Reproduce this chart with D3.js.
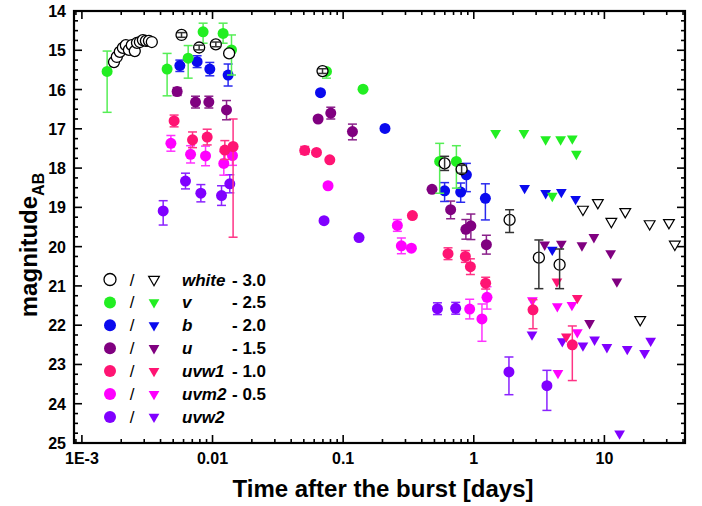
<!DOCTYPE html>
<html><head><meta charset="utf-8">
<script src="https://cdn.jsdelivr.net/npm/d3@7"></script>
<style>body{margin:0;background:#fff}text{font-family:"Liberation Sans",Arial,sans-serif}</style>
</head><body><svg id="c" width="702" height="506"></svg>
<script>
// detections: [time (days), magnitude, err low, err high]
const whiteDet = [[0.00176,15.30,0,0],[0.00185,15.17,0,0],[0.00195,15.04,0,0],[0.00206,14.94,0,0],[0.00217,14.87,0,0],[0.00229,14.99,0,0],[0.00241,14.87,0,0],[0.00254,15.02,0,0],[0.00264,14.81,0,0],[0.00278,14.79,0,0],[0.00293,14.74,0,0],[0.00309,14.76,0,0],[0.00326,14.76,0,0],[0.00343,14.79,0,0],[0.00579,14.61,0.06,0.06],[0.0079,14.93,0.06,0.06],[0.0106,14.85,0.06,0.06],[0.0134,15.08,0,0],[0.0695,15.53,0.06,0.06],[0.598,17.88,0.18,0.18],[0.807,18.03,0.1,0.1],[1.88,19.32,0.26,0.32],[3.15,20.28,0.45,0.79],[4.54,20.46,0.4,0.61]];
const whiteLim = [[6.85,19.05],[8.91,18.88],[11.3,19.36],[14.45,19.11],[18.8,21.86],[22.2,19.42],[31.2,19.39],[34.6,19.94]];
const vDet = [[0.00156,15.54,0.52,1.04],[0.00449,15.48,0.40,0.68],[0.00651,15.20,0.32,0.51],[0.00847,14.53,0.22,0.29],[0.01205,14.57,0.26,0.25],[0.01397,14.99,0.38,0.64],[0.0745,15.54,0.05,0.17],[0.142,15.99,0,0],[0.548,17.83,0.46,0.81],[0.736,17.83,0.40,0.68]];
const vLim = [[1.47,17.11],[2.42,17.11],[3.55,17.27],[3.99,18.71],[4.62,17.27],[5.68,17.25],[6.10,17.64]];
const bDet = [[0.00562,15.39,0.14,0.15],[0.00762,15.29,0.15,0.15],[0.00953,15.48,0.17,0.17],[0.01316,15.63,0.28,0.28],[0.0671,16.08,0,0],[0.209,16.99,0,0],[0.598,18.58,0.21,0.27],[0.794,18.61,0.23,0.26],[0.878,18.17,0.29,0.43],[1.227,18.77,0.37,0.55]];
const bLim = [[2.45,18.51],[3.55,18.64],[3.99,20.08],[4.68,18.61],[6.02,18.79]];
const uDet = [[0.00536,16.05,0.1,0.1],[0.00741,16.32,0.15,0.15],[0.00937,16.32,0.15,0.15],[0.0128,16.52,0.24,0.25],[0.0643,16.75,0,0],[0.0804,16.60,0.15,0.15],[0.1178,17.07,0.19,0.21],[0.479,18.54,0,0],[0.665,19.06,0.22,0.23],[0.87,19.56,0.25,0.25],[0.95,19.47,0.3,0.35],[1.249,19.95,0.24,0.24]];
const uLim = [[3.49,19.95],[4.68,19.93],[6.73,19.97],[7.70,21.95],[8.31,19.76],[11.16,20.17],[12.46,20.89]];
const uvw1Det = [[0.00508,16.80,0.15,0.15],[0.00703,17.28,0.2,0.2],[0.0091,17.21,0.2,0.2],[0.01242,17.54,0.24,0.24],[0.01437,17.45,0.70,2.31],[0.0508,17.55,0.1,0.1],[0.0625,17.60,0,0],[0.079,17.79,0,0],[0.339,19.21,0,0],[0.635,20.18,0.15,0.15],[0.862,20.25,0.15,0.15],[0.942,20.51,0.2,0.2],[1.233,20.93,0.15,0.15],[2.84,21.61,0.26,0.48],[5.68,22.50,0.48,0.91]];
const uvw1Lim = [[4.33,20.89],[5.11,22.29],[6.20,21.31]];
const uvm2Det = [[0.0048,17.37,0.2,0.2],[0.00679,17.65,0.22,0.22],[0.00884,17.69,0.25,0.25],[0.0122,17.88,0.3,0.3],[0.01422,17.68,0.25,0.25],[0.0766,18.45,0,0],[0.26,19.46,0.15,0.15],[0.279,19.98,0.2,0.2],[0.333,20.04,0,0],[0.93,21.59,0.25,0.25],[1.155,21.84,0.38,0.57],[1.262,21.29,0.27,0.3]];
const uvm2Lim = [[2.81,21.37],[4.36,21.52],[4.41,23.22],[5.64,21.49],[6.20,22.18]];
const uvw2Det = [[0.00419,19.09,0.26,0.36],[0.00621,18.33,0.2,0.2],[0.00814,18.64,0.22,0.22],[0.01172,18.70,0.25,0.25],[0.01356,18.40,0.23,0.23],[0.0714,19.34,0,0],[0.1323,19.77,0,0],[0.527,21.58,0.15,0.15],[0.727,21.57,0.15,0.15],[1.859,23.19,0.38,0.58],[3.63,23.54,0.39,0.63]];
const uvw2Lim = [[2.79,22.24],[4.76,22.41],[6.85,22.52],[8.41,22.37],[10.45,22.56],[13.07,24.76],[14.96,22.61],[20.3,22.71],[22.6,22.40]];

const seriesNames = ["white","v","b","u","uvw1","uvm2","uvw2"];
const seriesOffsets = ["- 3.0","- 2.5","- 2.0","- 1.5","- 1.0","- 0.5",""];
const seriesColors = ["#ffffff","#22ee22","#0a0aee","#800080","#ff1473","#ff00ff","#8000ff"];
const errColors = ["#333333","#55ee55","#2a2aee","#8a208a","#ff3385","#ff33ff","#8a22ff"];
const detData = [whiteDet,vDet,bDet,uDet,uvw1Det,uvm2Det,uvw2Det];
const limData = [whiteLim,vLim,bLim,uLim,uvw1Lim,uvm2Lim,uvw2Lim];
const xTicks = [0.001,0.01,0.1,1,10];
const xTickLabels = ["1E-3","0.01","0.1","1","10"];
const yTicks = [14,15,16,17,18,19,20,21,22,23,24,25];

const svg = d3.select("#c");
const L = 74, R = 685, T = 11, B = 443;
const x = d3.scaleLog().domain([0.00087, 41.4]).range([L, R]);
const y = d3.scaleLinear().domain([14, 25]).range([T, B]);

// minor ticks
const xMinor = [];
for (let e = -4; e <= 1; e++) for (let k = 2; k <= 9; k++) { const v = k * Math.pow(10, e); if (v > 0.00087 && v < 41.4) xMinor.push(v); }
const yMinor = d3.range(14, 25.001, 0.25).filter(v => Math.abs(v - Math.round(v)) > 0.01);

const ax = svg.append("g").attr("stroke", "#000").attr("stroke-width", 1.6);
xTicks.forEach(v => { const px = x(v);
  ax.append("line").attr("x1", px).attr("x2", px).attr("y1", B).attr("y2", B - 8);
  ax.append("line").attr("x1", px).attr("x2", px).attr("y1", T).attr("y2", T + 8); });
xMinor.forEach(v => { const px = x(v);
  ax.append("line").attr("x1", px).attr("x2", px).attr("y1", B).attr("y2", B - 4);
  ax.append("line").attr("x1", px).attr("x2", px).attr("y1", T).attr("y2", T + 4); });
yTicks.forEach(v => { const py = y(v);
  ax.append("line").attr("x1", L).attr("x2", L + 8).attr("y1", py).attr("y2", py);
  ax.append("line").attr("x1", R).attr("x2", R - 8).attr("y1", py).attr("y2", py); });
yMinor.forEach(v => { const py = y(v);
  ax.append("line").attr("x1", L).attr("x2", L + 4).attr("y1", py).attr("y2", py);
  ax.append("line").attr("x1", R).attr("x2", R - 4).attr("y1", py).attr("y2", py); });
svg.append("rect").attr("x", L).attr("y", T).attr("width", R - L).attr("height", B - T)
  .attr("fill", "none").attr("stroke", "#000").attr("stroke-width", 2.2);

xTicks.forEach((v, i) => svg.append("text").attr("x", x(v)).attr("y", 464).attr("text-anchor", "middle")
  .attr("font-size", 16).attr("font-weight", "bold").text(xTickLabels[i]));
yTicks.forEach(v => svg.append("text").attr("x", 66).attr("y", y(v) + 6).attr("text-anchor", "end")
  .attr("font-size", 16).attr("font-weight", "bold").text(v));

svg.append("text").attr("x", 383).attr("y", 497).attr("text-anchor", "middle").attr("font-size", 24)
  .attr("font-weight", "bold").text("Time after the burst [days]");
const yl = svg.append("text").attr("transform", "translate(37,245) rotate(-90)").attr("text-anchor", "middle")
  .attr("font-size", 24).attr("font-weight", "bold");
yl.append("tspan").text("magnitude");
yl.append("tspan").attr("font-size", 16).attr("dy", 7).text("AB");

const tri = d3.symbol().type(d3.symbolTriangle).size(50);
const plot = svg.append("g");
function drawSeries(i) {
  const col = seriesColors[i], ec = errColors[i], isW = i === 0;
  const g = plot.append("g");
  limData[i].forEach(d => g.append("path").attr("d", tri)
    .attr("transform", `translate(${x(d[0])},${y(d[1])}) rotate(180)`)
    .attr("fill", col).attr("stroke", isW ? "#000" : "none").attr("stroke-width", 1.2));
  const drawErr = d => { if (d[2] === 0 && d[3] === 0) return;
    const px = x(d[0]), y1 = y(d[1] - d[2]), y2 = y(d[1] + d[3]);
    g.append("line").attr("x1", px).attr("x2", px).attr("y1", y1).attr("y2", y2).attr("stroke", ec).attr("stroke-width", 1.5);
    [y1, y2].forEach(yy => g.append("line").attr("x1", px - 4.5).attr("x2", px + 4.5).attr("y1", yy).attr("y2", yy).attr("stroke", ec).attr("stroke-width", 1.5)); };
  if (!isW) detData[i].forEach(drawErr);
  detData[i].forEach(d => g.append("circle").attr("cx", x(d[0])).attr("cy", y(d[1])).attr("r", 5.5)
    .attr("fill", col).attr("stroke", isW ? "#000" : "none").attr("stroke-width", 1.3));
  if (isW) detData[i].forEach(drawErr);
}
[6, 5, 4, 3, 2, 1, 0].forEach(drawSeries);

// legend
const lg = svg.append("g");
seriesNames.forEach((n, i) => {
  const cy = 279.5 + i * 22.9, isW = i === 0;
  lg.append("circle").attr("cx", 110).attr("cy", cy).attr("r", 6).attr("fill", seriesColors[i])
    .attr("stroke", isW ? "#000" : "none").attr("stroke-width", 1.3);
  lg.append("text").attr("x", 132).attr("y", cy + 6).attr("text-anchor", "middle").attr("font-size", 17)
    .attr("font-weight", "normal").text("/");
  lg.append("path").attr("d", tri).attr("transform", `translate(154,${cy}) rotate(180)`)
    .attr("fill", seriesColors[i]).attr("stroke", isW ? "#000" : "none").attr("stroke-width", 1.2);
  lg.append("text").attr("x", 182).attr("y", cy + 6).attr("font-size", 17).attr("font-weight", "bold")
    .attr("font-style", "italic").text(n);
  lg.append("text").attr("x", 232).attr("y", cy + 6).attr("font-size", 17).attr("font-weight", "bold").text(seriesOffsets[i]);
});
</script></body></html>
